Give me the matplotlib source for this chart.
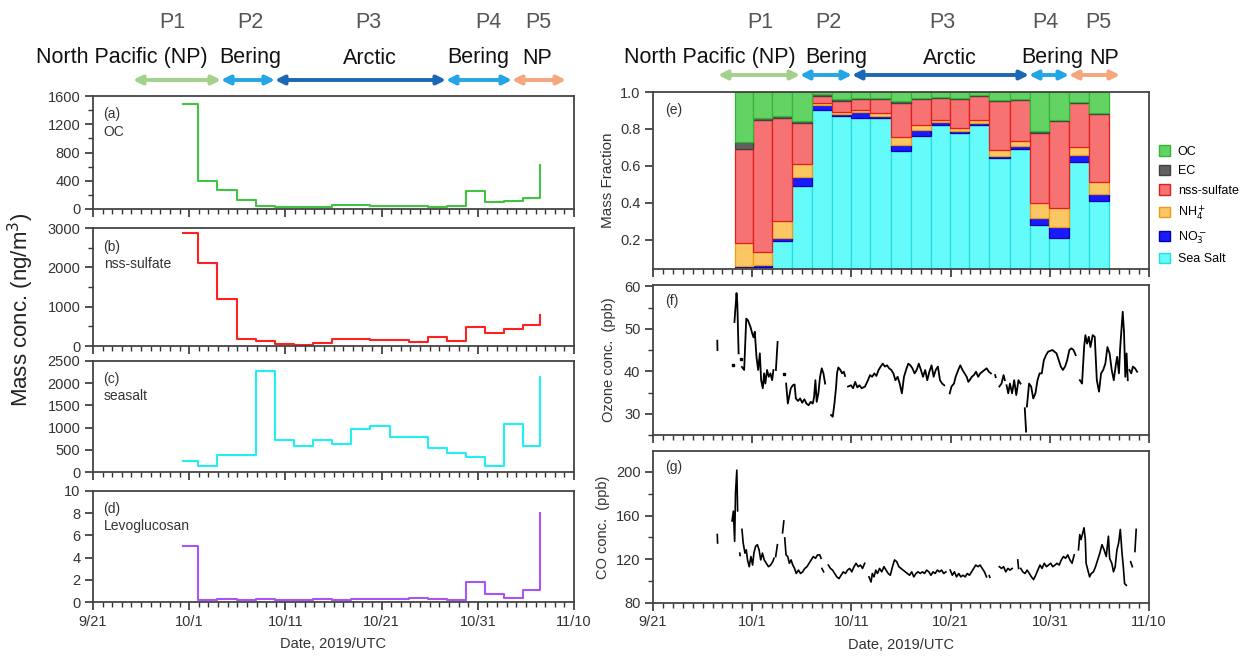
import numpy as np
import matplotlib
matplotlib.use('Agg')
import matplotlib.pyplot as plt
from matplotlib.patches import Patch, FancyArrowPatch
from matplotlib.ticker import MultipleLocator

plt.rcParams['font.family'] = ['Liberation Sans', 'DejaVu Sans']

nan = np.nan

# x axis = days since 2019-09-21
date_ticks = [0, 10, 20, 30, 40, 50]
date_labels = ['9/21', '10/1', '10/11', '10/21', '10/31', '11/10']

# filter samples: start times, last entry = end of last sample
sample_t = [9.31, 10.94, 12.93, 14.92, 16.9, 18.89, 20.88, 22.87, 24.86, 26.85,
            28.84, 30.83, 32.82, 34.81, 36.79, 38.78, 40.77, 42.76, 44.75, 46.42]
oc = [1490, 400, 265, 125, 40, 30, 30, 35, 55, 55, 45, 40, 40, 25, 40, 250, 100, 110, 150, 630]
nss = [2870, 2110, 1190, 175, 130, 45, 30, 70, 175, 175, 150, 150, 110, 220, 130, 480, 340, 420, 530, 800]
seasalt = [240, 140, 390, 390, 2280, 730, 580, 720, 630, 960, 1040, 780, 780, 530, 420, 340, 140, 1090, 580, 2150]
levo = [5.05, 0.15, 0.3, 0.15, 0.3, 0.2, 0.2, 0.3, 0.15, 0.25, 0.3, 0.25, 0.35, 0.25, 0.2, 1.8, 0.7, 0.4, 1.1, 8.0]

# mass fraction bars (panel e)
bar_edges = [8.3, 10.1, 12.0, 14.0, 16.0, 18.0, 20.0, 21.9, 24.0, 26.0,
             28.0, 29.9, 31.9, 33.9, 36.0, 38.0, 39.9, 41.9, 44.0, 46.0]
f_ss = [0.05, 0.05, 0.19, 0.49, 0.90, 0.87, 0.86, 0.86, 0.68, 0.76, 0.82, 0.78, 0.82, 0.64, 0.69, 0.28, 0.21, 0.62, 0.41]
f_no3 = [0.005, 0.01, 0.02, 0.05, 0.03, 0.01, 0.03, 0.01, 0.03, 0.035, 0.015, 0.01, 0.01, 0.015, 0.015, 0.035, 0.06, 0.04, 0.035]
f_nh4 = [0.125, 0.07, 0.09, 0.07, 0.01, 0.01, 0.015, 0.015, 0.045, 0.025, 0.015, 0.015, 0.02, 0.03, 0.03, 0.085, 0.10, 0.04, 0.065]
f_nss = [0.51, 0.72, 0.56, 0.22, 0.04, 0.06, 0.055, 0.075, 0.185, 0.14, 0.12, 0.155, 0.13, 0.265, 0.22, 0.38, 0.475, 0.24, 0.37]
f_ec = [0.04, 0.01, 0.01, 0.015, 0.01, 0.01, 0.005, 0.01, 0.01, 0.005, 0.005, 0.005, 0.005, 0.005, 0.005, 0.01, 0.005, 0.005, 0.005]
f_oc = [0.27, 0.14, 0.13, 0.155, 0.01, 0.04, 0.035, 0.03, 0.05, 0.035, 0.025, 0.035, 0.015, 0.045, 0.04, 0.21, 0.15, 0.055, 0.115]

# ozone (ppb), nan = gap
o3_day = [6.48, 6.50, nan, 8.08, nan, 8.21, 8.42, 8.50, 8.63, nan, 8.85, nan,
          8.97, 9.19, 9.40, 9.57, 9.83, 10.00, 10.13, 10.26, 10.43, 10.60, 10.77, 10.90, 11.07, 11.20,
          11.32, 11.50, 11.67, 11.84, 12.01, 12.14, nan, 12.39, 12.56, nan, 13.16, nan,
          13.42, 13.59, 13.89, 14.10, 14.27, 14.40, 14.62, 14.83, 15.04, 15.26, 15.47, 15.68, 15.90,
          16.11, 16.24, 16.37, 16.50, 16.67, 16.84, 17.01, 17.18, 17.35, nan,
          17.95, 18.12, 18.29, 18.46, 18.55, 18.68, 18.89, 19.06, 19.23, 19.36, nan,
          19.66, 19.96, 20.17, 20.38, 20.60, 20.81, 21.03, 21.37, 21.67, 21.88, 22.09, 22.31, 22.52,
          22.74, 22.95, 23.16, 23.38, 23.59, 23.80, 24.02, 24.23, 24.44, 24.66, 24.87, 25.09, 25.30,
          25.51, 25.73, 25.94, 26.15, 26.37, 26.58, 26.79, 27.01, 27.22, 27.44, 27.65, 27.86, 28.08,
          28.29, 28.50, 28.72, 28.93, 29.15, 29.36, nan,
          29.91, 30.09, 30.34, 30.51, 30.77, 30.98, 31.20, 31.41, 31.62, 31.79, 31.92, 32.14, 32.35,
          32.56, 32.78, 32.99, 33.21, 33.42, 33.63, 33.85, 34.06, nan, 34.49, 34.55, nan,
          34.91, 35.13, 35.34, 35.47, nan, 35.64, 35.81, 35.98, 36.20, 36.41, 36.62, 36.84, 37.05, nan,
          37.48, 37.61, nan,
          37.69, 37.91, 38.12, 38.33, 38.55, 38.76, 38.97, 39.19, 39.40, 39.62, 39.83, 40.26, 40.68,
          40.90, 41.11, 41.32, 41.54, 41.75, 41.97, 42.18, 42.39, 42.61, nan,
          43.03, 43.25, 43.46, 43.59, 43.76, 43.93, 44.10, 44.32, 44.53, 44.74, 44.96, 45.17, 45.38,
          45.60, 45.81, 46.03, 46.24, 46.45, 46.67, 46.79, 46.97, 47.09, 47.22, 47.35, 47.48, 47.61,
          47.74, 47.86, nan, 48.03, 48.21, 48.38, 48.59, 48.80]
o3_ppb = [47.2, 45.0, nan, 41.4, nan, 51.6, 58.4, 56.0, 44.2, nan, 43.0, nan,
          41.0, 40.3, 52.4, 52.0, 50.4, 48.9, 48.0, 49.3, 43.4, 40.3, 44.2, 37.9, 36.0, 39.5,
          37.1, 40.3, 38.7, 39.5, 37.9, 40.3, nan, 40.3, 46.9, nan, 39.3, nan,
          37.1, 32.4, 36.0, 36.7, 36.9, 33.6, 33.0, 33.6, 32.6, 33.4, 32.4, 32.0, 32.8,
          32.4, 34.0, 37.9, 32.8, 34.8, 38.7, 40.7, 39.5, 37.1, nan,
          29.7, 29.3, 32.4, 36.4, 39.5, 40.9, 40.3, 39.5, 39.9, 38.9, nan,
          36.4, 36.7, 36.0, 37.5, 36.2, 36.7, 36.0, 36.4, 37.9, 39.1, 38.7, 39.5, 38.9,
          40.3, 41.1, 41.8, 41.1, 41.4, 40.7, 40.3, 39.5, 37.9, 38.7, 37.1, 34.8, 38.7,
          40.3, 41.8, 41.4, 40.7, 39.5, 40.3, 41.8, 40.3, 38.7, 40.3, 37.9, 39.9, 41.4,
          38.7, 40.3, 41.1, 37.9, 37.1, 36.7, nan,
          34.8, 36.4, 37.1, 38.7, 40.3, 41.4, 40.3, 39.5, 38.7, 37.5, 37.9, 38.7, 39.1,
          39.9, 38.7, 39.5, 39.9, 40.3, 40.7, 39.9, 39.5, nan, 39.1, 38.6, nan,
          36.4, 37.1, 39.1, 37.9, nan, 36.7, 34.8, 37.1, 34.8, 37.9, 34.4, 37.9, 37.1, nan,
          31.3, 25.8, nan,
          31.7, 37.1, 36.4, 33.6, 34.8, 37.9, 39.5, 39.5, 42.6, 43.8, 44.6, 45.0, 44.2,
          42.6, 41.1, 40.3, 41.1, 42.6, 45.0, 45.4, 45.0, 43.8, nan,
          37.9, 37.1, 45.7, 48.5, 46.5, 48.1, 45.7, 48.5, 48.1, 37.9, 35.2, 39.5, 40.3,
          41.8, 45.7, 44.2, 40.3, 37.9, 41.8, 43.4, 39.5, 45.4, 49.7, 54.0, 49.3, 38.7,
          44.2, 37.9, nan, 40.3, 39.5, 41.1, 40.7, 39.9]

# CO (ppb), nan = gap
co_day = [6.48, 6.51, nan, 7.97, 8.10, 8.23, 8.32, 8.45, 8.53, nan, 8.75, 8.78, nan,
          8.97, 9.09, 9.27, 9.40, 9.53, 9.70, 9.87, 10.04, 10.17, 10.34, 10.52, 10.69, 10.86, 11.03,
          11.21, 11.42, 11.64, 11.85, 12.07, 12.20, nan, 12.37, 12.54, nan, 13.06, 13.19, nan,
          13.28, 13.41, 13.58, 13.75, 13.92, 14.09, 14.27, 14.44, 14.66, 14.87, 15.09, 15.30, 15.52,
          15.73, 15.95, 16.16, 16.38, 16.59, 16.81, 16.94, nan, 17.03, 17.20, nan,
          17.67, 17.89, 18.10, 18.32, 18.53, 18.75, 18.97, 19.18, 19.40, 19.61, 19.83, 20.04, 20.26,
          20.47, 20.69, 20.91, 21.12, 21.34, nan,
          21.77, 21.98, 22.11, 22.28, 22.46, 22.63, 22.84, 23.06, 23.28, 23.49, 23.71, 23.92, 24.14,
          24.35, 24.57, 24.78, 25.00, 25.22, 25.43, 25.65, 25.86, 26.08, 26.29, 26.51, 26.72, 26.94,
          27.16, 27.37, 27.59, 27.80, 28.02, 28.23, 28.45, 28.66, 28.88, 29.09, 29.31, 29.53, nan,
          29.96, 30.17, 30.39, 30.60, 30.82, 31.03, 31.25, 31.47, 31.68, 31.90, 32.11, 32.33, 32.54,
          32.76, 32.97, 33.19, 33.41, 33.62, nan, 33.90, 33.95, nan,
          34.91, 35.13, 35.34, 35.56, 35.78, 35.99, 36.21, nan, 36.77, 36.85, nan,
          37.07, 37.28, 37.50, 37.72, 37.93, 38.15, 38.36, 38.58, 38.79, 39.01, 39.22, 39.44, 39.66,
          39.87, 40.09, 40.30, 40.52, 40.73, 40.95, 41.16, 41.38, 41.59, 41.81, 42.03, 42.24, 42.46, nan,
          42.89, 43.02, 43.15, 43.32, 43.45, 43.58, 43.66, 43.84, 44.01, 44.18, 44.40, 44.61, 44.83,
          45.04, 45.26, 45.47, 45.69, 45.91, 46.03, 46.25, 46.42, 46.59, 46.77, 46.94, 47.11, 47.28,
          47.41, 47.54, 47.72, nan, 48.15, 48.32, nan, 48.58, 48.71]
co_ppb = [142.6, 134.9, nan, 155.0, 164.0, 136.4, 181.4, 201.5, 164.3, nan, 125.6, 123.5, nan,
          147.3, 134.9, 125.6, 128.7, 119.4, 113.2, 122.5, 114.7, 125.6, 131.8, 133.3, 128.7, 119.4, 125.6,
          119.4, 116.3, 113.2, 114.7, 117.8, 120.9, nan, 122.5, 133.3, nan, 144.2, 155.0, nan,
          139.5, 124.0, 122.5, 116.3, 119.4, 114.7, 111.6, 107.0, 110.1, 107.0, 108.5, 111.6, 113.2,
          116.3, 119.4, 122.5, 120.9, 124.0, 124.0, 120.9, nan, 111.6, 108.5, nan,
          114.7, 111.6, 110.1, 107.0, 103.9, 102.3, 105.4, 108.5, 107.0, 110.1, 111.6, 108.5, 113.2,
          116.3, 113.2, 114.7, 111.6, 116.3, nan,
          103.9, 99.2, 107.0, 103.9, 110.1, 107.0, 111.6, 108.5, 113.2, 110.1, 107.0, 105.4, 113.2,
          119.4, 117.8, 113.2, 111.6, 110.1, 108.5, 107.0, 105.4, 108.5, 103.9, 107.0, 108.5, 107.0,
          108.5, 107.0, 110.1, 108.5, 105.4, 108.5, 107.0, 110.1, 108.5, 110.1, 107.0, 108.5, nan,
          110.1, 105.4, 108.5, 103.9, 107.0, 103.9, 105.4, 103.9, 107.0, 105.4, 108.5, 111.6, 114.7,
          113.2, 114.7, 111.6, 108.5, 103.9, nan, 105.0, 103.5, nan,
          113.2, 111.6, 113.2, 108.5, 111.6, 110.1, 111.6, nan, 119.4, 111.6, nan,
          111.6, 108.5, 107.0, 110.1, 107.0, 103.9, 101.4, 105.4, 110.1, 114.7, 111.6, 116.3, 113.2,
          114.7, 116.3, 113.2, 114.7, 116.3, 114.7, 119.4, 122.5, 120.9, 124.0, 119.4, 116.3, 124.0, nan,
          128.7, 142.6, 138.0, 144.2, 148.8, 138.0, 116.3, 110.1, 103.9, 107.0, 108.5, 113.2, 119.4,
          125.6, 133.3, 128.7, 122.5, 141.1, 120.9, 116.3, 108.5, 113.2, 128.7, 134.9, 147.3, 125.6,
          113.2, 97.7, 96.2, nan, 117.8, 113.2, nan, 127.1, 147.3]

W, H = 1243, 660
fig = plt.figure(figsize=(W / 100, H / 100), dpi=100)


def add_axes(left, top, right, bottom):
    # pixel box -> figure fraction
    return fig.add_axes([left / W, 1 - bottom / H, (right - left) / W, (bottom - top) / H])


def style_axes(ax, show_dates=False):
    ax.set_xlim(0, 50)
    ax.set_xticks(date_ticks)
    ax.xaxis.set_minor_locator(MultipleLocator(1))
    if show_dates:
        ax.set_xticklabels(date_labels)
        ax.set_xlabel('Date, 2019/UTC', fontsize=10.5, color='#333333', labelpad=6)
    else:
        ax.tick_params(axis='x', labelbottom=False)
    ax.tick_params(which='major', direction='out', length=6, width=1.2, colors='#333333',
                   labelsize=10.5, pad=3)
    ax.tick_params(which='minor', direction='out', length=3.5, width=1.0, colors='#333333')
    for sp in ax.spines.values():
        sp.set_linewidth(1.3)
        sp.set_color('#444444')


def plot_trace(ax, days, vals, lw):
    # continuous line pieces, plus single readings that sit between gaps
    d = np.array(days)
    v = np.array(vals)
    ax.plot(d, v, color='black', lw=lw)
    prev_gap = np.isnan(np.r_[nan, v[:-1]])
    next_gap = np.isnan(np.r_[v[1:], nan])
    lone = prev_gap & next_gap & ~np.isnan(v)
    ax.plot(d[lone], v[lone], 's', color='black', ms=1.8)


# left column: step plots
left_panels = [
    ((96, 209), oc, '#44c244', (0, 1600), [0, 400, 800, 1200, 1600], 200, '(a)\nOC'),
    ((228, 346), nss, '#ff2020', (0, 3000), [0, 1000, 2000, 3000], 500, '(b)\nnss-sulfate'),
    ((361, 472), seasalt, '#22f0f0', (0, 2500), [0, 500, 1000, 1500, 2000, 2500], None, '(c)\nseasalt'),
    ((491, 602), levo, '#a855f7', (0, 10), [0, 2, 4, 6, 8, 10], None, '(d)\nLevoglucosan'),
]
for i, (tb, vals, col, ylim, yt, minor, lab) in enumerate(left_panels):
    ax = add_axes(93, tb[0], 574, tb[1])
    ax.step(sample_t, vals, where='post', color=col, lw=1.5)
    ax.set_ylim(*ylim)
    ax.set_yticks(yt)
    if minor:
        ax.yaxis.set_minor_locator(MultipleLocator(minor))
    style_axes(ax, show_dates=(i == 3))
    ax.text(0.022, 0.9, lab, transform=ax.transAxes, va='top', ha='left', fontsize=10,
            color='#333333', linespacing=1.3)

fig.text(0.017, 0.53, 'Mass conc. (ng/m$^3$)', rotation=90, va='center', ha='center',
         fontsize=16, color='#222222')

# panel e: stacked mass fractions
ax_e = add_axes(653, 92, 1149, 269)
widths = np.diff(bar_edges)
layers = [
    (f_ss, '#66fbfb', '#22dede', 'Sea Salt'),
    (f_no3, '#1a1aff', '#0000b0', 'NO$_3^-$'),
    (f_nh4, '#fbc765', '#f09a1a', 'NH$_4^+$'),
    (f_nss, '#f77272', '#e01e1e', 'nss-sulfate'),
    (f_ec, '#606060', '#404040', 'EC'),
    (f_oc, '#63d463', '#35b535', 'OC'),
]
bottom = np.zeros(len(f_ss))
for vals, fc, ec, name in layers:
    ax_e.bar(bar_edges[:-1], vals, width=widths, bottom=bottom, align='edge',
             color=fc, edgecolor=ec, linewidth=0.9)
    bottom = bottom + np.array(vals)
ax_e.set_ylim(0.04, 1.0)
ax_e.set_yticks([0.2, 0.4, 0.6, 0.8, 1.0])
ax_e.set_yticklabels(['0.2', '0.4', '0.6', '0.8', '1.0'])
style_axes(ax_e)
ax_e.set_ylabel('Mass Fraction', fontsize=11, color='#333333', labelpad=4)
ax_e.text(0.025, 0.94, '(e)', transform=ax_e.transAxes, va='top', fontsize=10, color='#333333')
handles = [Patch(facecolor=fc, edgecolor=ec, label=name) for vals, fc, ec, name in layers[::-1]]
ax_e.legend(handles=handles, loc='center left', bbox_to_anchor=(1.01, 0.36), frameon=False,
            fontsize=9, handlelength=0.9, handleheight=0.9, handletextpad=0.6,
            labelspacing=0.55, borderaxespad=0)

# panel f: ozone
ax_f = add_axes(653, 285, 1149, 435)
plot_trace(ax_f, o3_day, o3_ppb, 1.3)
ax_f.set_ylim(25, 60.3)
ax_f.set_yticks([30, 40, 50, 60])
ax_f.yaxis.set_minor_locator(MultipleLocator(5))
style_axes(ax_f)
ax_f.set_ylabel('Ozone conc.  (ppb)', fontsize=10.5, color='#333333', labelpad=6)
ax_f.text(0.025, 0.94, '(f)', transform=ax_f.transAxes, va='top', fontsize=10, color='#333333')

# panel g: CO
ax_g = add_axes(653, 451, 1149, 603)
plot_trace(ax_g, co_day, co_ppb, 1.2)
ax_g.set_ylim(80, 219)
ax_g.set_yticks([80, 120, 160, 200])
ax_g.yaxis.set_minor_locator(MultipleLocator(20))
style_axes(ax_g, show_dates=True)
ax_g.set_ylabel('CO conc.  (ppb)', fontsize=10.5, color='#333333', labelpad=4)
ax_g.text(0.025, 0.94, '(g)', transform=ax_g.transAxes, va='top', fontsize=10, color='#333333')

# cruise periods above both columns
period_names = ['P1', 'P2', 'P3', 'P4', 'P5']
region_names = ['North Pacific (NP)', 'Bering', 'Arctic', 'Bering', 'NP']
arrow_colors = ['#a3d08a', '#22a6e6', '#1b68b5', '#22a6e6', '#f6a67c']
sides = [
    # P label x, region label x, arrow edges, arrow y (pixels)
    ([172, 250, 368, 488, 538], [122, 250, 370, 478, 537], [133, 221, 275, 446, 512, 566], 80),
    ([760, 828, 942, 1045, 1098], [710, 836, 950, 1052, 1104], [718, 800, 852, 1029, 1069, 1120], 75),
]
for px, rx, edges, ay in sides:
    for k in range(5):
        fig.text(px[k] / W, 1 - 22 / H, period_names[k], ha='center', va='center',
                 fontsize=15.5, color='#555555')
        fig.text(rx[k] / W, 1 - 58 / H, region_names[k], ha='center', va='center',
                 fontsize=15.5, color='#111111')
        fig.add_artist(FancyArrowPatch(
            (edges[k] / W, 1 - ay / H), (edges[k + 1] / W, 1 - ay / H),
            transform=fig.transFigure, arrowstyle='<|-|>', mutation_scale=13,
            lw=2.8, color=arrow_colors[k], shrinkA=0, shrinkB=0))

fig.savefig('out.png', dpi=100)
